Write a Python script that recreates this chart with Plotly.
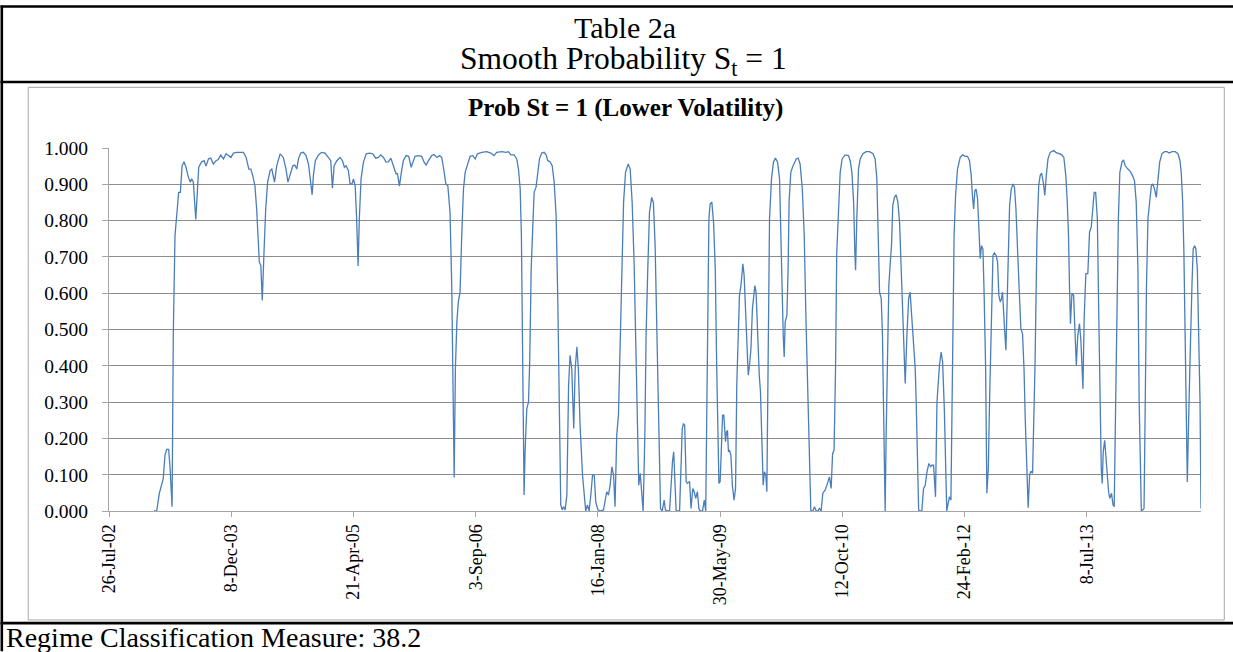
import pandas as pd
import plotly.graph_objects as go

# ---------------- data ----------------
START = "2002-07-26"          # first category on the axis
END_DAY = 4467                # last observation, days after START

tick_labels = ["26-Jul-02", "8-Dec-03", "21-Apr-05", "3-Sep-06", "16-Jan-08",
               "30-May-09", "12-Oct-10", "24-Feb-12", "8-Jul-13"]

y_ticks = [0.0, 0.1, 0.2, 0.3, 0.4, 0.5, 0.6, 0.7, 0.8, 0.9, 1.0]

# observation dates, as days after START
obs_day = [
    184, 195, 206, 216, 222, 229, 236, 244, 250, 258, 263, 270, 277, 285, 292, 299, 307, 315, 325, 332,
    338, 345, 355, 362, 367, 379, 389, 397, 407, 416, 427, 438, 447, 457, 468, 479, 488, 499, 509, 522,
    550, 561, 572, 580, 588, 597, 604, 611, 615, 621, 627, 634, 641, 649, 659, 666, 677, 686, 700, 713,
    724, 732, 741, 752, 760, 768, 775, 784, 795, 806, 816, 822, 831, 836, 844, 857, 870, 884, 897, 907,
    914, 921, 932, 945, 955, 963, 970, 979, 986, 994, 1000, 1007, 1013, 1019, 1024, 1031, 1041, 1052, 1065, 1079,
    1091, 1102, 1112, 1123, 1133, 1143, 1153, 1163, 1174, 1180, 1188, 1196, 1204, 1215, 1226, 1236, 1245, 1252, 1266, 1279,
    1289, 1297, 1307, 1320, 1330, 1341, 1352, 1361, 1368, 1378, 1386, 1395, 1402, 1406, 1412, 1417, 1423, 1429, 1436, 1443,
    1450, 1457, 1466, 1477, 1488, 1498, 1507, 1525, 1545, 1562, 1575, 1586, 1607, 1624, 1634, 1644, 1657, 1668, 1675, 1682,
    1687, 1691, 1695, 1698, 1702, 1709, 1716, 1721, 1727, 1734, 1739, 1747, 1754, 1761, 1770, 1780, 1788, 1795, 1804, 1813,
    1821, 1829, 1836, 1841, 1848, 1854, 1859, 1866, 1873, 1880, 1886, 1893, 1901, 1907, 1914, 1920, 1927, 1937, 1944, 1950,
    1957, 1964, 1971, 1978, 1985, 1991, 2000, 2009, 2023, 2030, 2036, 2043, 2050, 2057, 2064, 2070, 2077, 2084, 2091, 2098,
    2105, 2113, 2124, 2132, 2140, 2148, 2155, 2162, 2167, 2173, 2178, 2185, 2192, 2197, 2204, 2211, 2220, 2227, 2234, 2241,
    2249, 2256, 2263, 2271, 2276, 2285, 2293, 2300, 2305, 2310, 2316, 2320, 2334, 2339, 2345, 2350, 2355, 2361, 2366, 2375,
    2381, 2388, 2394, 2400, 2407, 2413, 2418, 2428, 2435, 2441, 2445, 2450, 2454, 2459, 2466, 2473, 2480, 2486, 2491, 2495,
    2500, 2506, 2510, 2515, 2522, 2526, 2530, 2534, 2538, 2544, 2550, 2557, 2563, 2568, 2574, 2579, 2585, 2593, 2598, 2604,
    2609, 2615, 2620, 2626, 2632, 2638, 2642, 2647, 2654, 2660, 2665, 2671, 2676, 2681, 2687, 2691, 2696, 2702, 2710, 2718,
    2726, 2735, 2743, 2748, 2754, 2758, 2762, 2766, 2773, 2778, 2782, 2789, 2796, 2803, 2811, 2819, 2827, 2836, 2844, 2851,
    2859, 2866, 2871, 2879, 2886, 2893, 2900, 2906, 2913, 2920, 2930, 2939, 2947, 2954, 2960, 2966, 2972, 2977, 2984, 2991,
    2999, 3011, 3025, 3032, 3039, 3046, 3051, 3054, 3059, 3066, 3073, 3084, 3097, 3111, 3125, 3134, 3141, 3147, 3152, 3159,
    3164, 3168, 3172, 3175, 3179, 3185, 3190, 3196, 3201, 3206, 3213, 3220, 3227, 3234, 3239, 3245, 3250, 3257, 3264, 3271,
    3277, 3284, 3291, 3298, 3302, 3306, 3312, 3318, 3325, 3332, 3339, 3346, 3354, 3361, 3366, 3373, 3381, 3387, 3392, 3397,
    3404, 3410, 3417, 3422, 3427, 3434, 3438, 3444, 3448, 3452, 3457, 3463, 3471, 3482, 3492, 3502, 3512, 3520, 3527, 3532,
    3537, 3542, 3547, 3553, 3558, 3564, 3569, 3575, 3580, 3586, 3591, 3597, 3602, 3609, 3616, 3622, 3629, 3635, 3640, 3646,
    3651, 3655, 3659, 3665, 3669, 3673, 3678, 3684, 3691, 3698, 3704, 3710, 3717, 3723, 3730, 3737, 3743, 3748, 3755, 3760,
    3766, 3771, 3778, 3782, 3788, 3796, 3803, 3809, 3815, 3822, 3828, 3834, 3841, 3850, 3864, 3873, 3884, 3898, 3906, 3914,
    3920, 3925, 3929, 3933, 3939, 3946, 3950, 3957, 3963, 3970, 3976, 3984, 3989, 3996, 4004, 4011, 4018, 4024, 4030, 4036,
    4043, 4048, 4054, 4059, 4063, 4067, 4073, 4078, 4084, 4089, 4094, 4101, 4107, 4112, 4118, 4123, 4129, 4135, 4144, 4150,
    4157, 4168, 4178, 4187, 4195, 4202, 4209, 4214, 4220, 4223, 4228, 4234, 4239, 4244, 4250, 4257, 4264, 4270, 4277, 4284,
    4291, 4298, 4307, 4318, 4328, 4337, 4348, 4362, 4373, 4381, 4386, 4392, 4397, 4403, 4407, 4411, 4415, 4419, 4424, 4430,
    4435, 4441, 4446, 4452, 4457, 4463, 4467,
]

# smoothed probability of regime St = 1 (lower volatility)
prob_st1 = [
    0.000, 0.000, 0.049, 0.076, 0.090, 0.154, 0.170, 0.170, 0.117, 0.012, 0.484, 0.759, 0.823, 0.878, 0.878, 0.951, 0.962, 0.947, 0.919, 0.906,
    0.915, 0.906, 0.803, 0.906, 0.947, 0.962, 0.965, 0.950, 0.970, 0.972, 0.956, 0.965, 0.968, 0.981, 0.970, 0.984, 0.979, 0.974, 0.986, 0.988,
    0.988, 0.974, 0.942, 0.942, 0.924, 0.896, 0.832, 0.731, 0.686, 0.676, 0.580, 0.713, 0.832, 0.906, 0.938, 0.942, 0.906, 0.951, 0.984, 0.974,
    0.942, 0.906, 0.924, 0.951, 0.953, 0.942, 0.970, 0.986, 0.988, 0.979, 0.956, 0.924, 0.871, 0.924, 0.965, 0.981, 0.988, 0.986, 0.974, 0.965,
    0.889, 0.951, 0.965, 0.974, 0.965, 0.947, 0.951, 0.938, 0.901, 0.901, 0.915, 0.896, 0.805, 0.675, 0.805, 0.915, 0.961, 0.984, 0.986, 0.984,
    0.972, 0.974, 0.981, 0.974, 0.961, 0.962, 0.972, 0.951, 0.929, 0.929, 0.895, 0.933, 0.965, 0.979, 0.977, 0.947, 0.965, 0.977, 0.979, 0.977,
    0.961, 0.953, 0.965, 0.979, 0.982, 0.974, 0.979, 0.974, 0.947, 0.901, 0.896, 0.823, 0.621, 0.392, 0.092, 0.392, 0.521, 0.576, 0.603, 0.759,
    0.887, 0.933, 0.956, 0.977, 0.979, 0.970, 0.984, 0.988, 0.990, 0.986, 0.979, 0.988, 0.990, 0.988, 0.990, 0.981, 0.981, 0.970, 0.942, 0.887,
    0.759, 0.438, 0.117, 0.044, 0.163, 0.282, 0.300, 0.411, 0.667, 0.823, 0.878, 0.892, 0.942, 0.970, 0.986, 0.988, 0.981, 0.965, 0.962, 0.951,
    0.906, 0.814, 0.576, 0.301, 0.017, 0.003, 0.012, 0.003, 0.044, 0.346, 0.429, 0.392, 0.227, 0.392, 0.452, 0.392, 0.236, 0.099, 0.049, 0.000,
    0.017, 0.000, 0.044, 0.099, 0.099, 0.026, 0.003, 0.000, 0.003, 0.026, 0.053, 0.044, 0.071, 0.122, 0.099, 0.012, 0.209, 0.264, 0.484, 0.713,
    0.851, 0.933, 0.956, 0.942, 0.851, 0.685, 0.438, 0.209, 0.071, 0.104, 0.062, 0.000, 0.209, 0.484, 0.667, 0.823, 0.864, 0.850, 0.732, 0.484,
    0.209, 0.007, 0.000, 0.030, 0.003, 0.000, 0.000, 0.090, 0.136, 0.163, 0.071, 0.000, 0.000, 0.117, 0.227, 0.241, 0.236, 0.081, 0.076, 0.081,
    0.007, 0.062, 0.053, 0.035, 0.053, 0.007, 0.000, 0.000, 0.030, 0.000, 0.209, 0.484, 0.805, 0.846, 0.851, 0.795, 0.667, 0.392, 0.209, 0.076,
    0.081, 0.191, 0.264, 0.264, 0.191, 0.218, 0.222, 0.163, 0.168, 0.154, 0.071, 0.030, 0.062, 0.346, 0.521, 0.594, 0.621, 0.681, 0.649, 0.548,
    0.438, 0.374, 0.401, 0.447, 0.557, 0.612, 0.621, 0.603, 0.465, 0.374, 0.328, 0.209, 0.071, 0.108, 0.099, 0.053, 0.484, 0.805, 0.915, 0.961,
    0.972, 0.961, 0.915, 0.759, 0.576, 0.484, 0.424, 0.521, 0.539, 0.667, 0.851, 0.933, 0.947, 0.956, 0.970, 0.972, 0.956, 0.887, 0.759, 0.530,
    0.301, 0.163, 0.000, 0.000, 0.012, 0.000, 0.000, 0.007, 0.000, 0.049, 0.058, 0.076, 0.094, 0.062, 0.158, 0.168, 0.392, 0.713, 0.851, 0.933,
    0.970, 0.981, 0.979, 0.965, 0.933, 0.851, 0.713, 0.663, 0.805, 0.942, 0.970, 0.984, 0.990, 0.990, 0.984, 0.970, 0.915, 0.759, 0.603, 0.585,
    0.484, 0.301, 0.117, 0.000, 0.209, 0.438, 0.621, 0.685, 0.731, 0.841, 0.864, 0.871, 0.851, 0.795, 0.695, 0.576, 0.493, 0.351, 0.484, 0.585,
    0.603, 0.539, 0.447, 0.392, 0.301, 0.163, 0.003, 0.000, 0.000, 0.062, 0.071, 0.108, 0.131, 0.122, 0.126, 0.126, 0.039, 0.301, 0.356, 0.401,
    0.438, 0.410, 0.282, 0.117, 0.000, 0.026, 0.039, 0.030, 0.301, 0.576, 0.759, 0.869, 0.942, 0.974, 0.981, 0.977, 0.977, 0.965, 0.924, 0.869,
    0.832, 0.882, 0.887, 0.860, 0.777, 0.695, 0.731, 0.722, 0.594, 0.392, 0.049, 0.117, 0.301, 0.530, 0.704, 0.711, 0.704, 0.685, 0.594, 0.576,
    0.585, 0.603, 0.539, 0.484, 0.443, 0.576, 0.713, 0.841, 0.887, 0.901, 0.892, 0.832, 0.713, 0.621, 0.503, 0.488, 0.392, 0.255, 0.117, 0.009,
    0.099, 0.110, 0.104, 0.209, 0.400, 0.759, 0.896, 0.924, 0.931, 0.905, 0.869, 0.924, 0.970, 0.988, 0.993, 0.988, 0.984, 0.981, 0.974, 0.924,
    0.850, 0.759, 0.621, 0.516, 0.599, 0.594, 0.521, 0.401, 0.484, 0.516, 0.466, 0.337, 0.530, 0.654, 0.654, 0.768, 0.782, 0.832, 0.878, 0.878,
    0.805, 0.576, 0.301, 0.117, 0.076, 0.163, 0.195, 0.154, 0.090, 0.053, 0.035, 0.049, 0.017, 0.012, 0.301, 0.576, 0.805, 0.933, 0.962, 0.967,
    0.951, 0.942, 0.935, 0.924, 0.910, 0.851, 0.667, 0.301, 0.026, 0.000, 0.003, 0.007, 0.301, 0.621, 0.805, 0.851, 0.896, 0.901, 0.887, 0.864,
    0.915, 0.961, 0.984, 0.990, 0.990, 0.986, 0.990, 0.990, 0.984, 0.965, 0.933, 0.851, 0.713, 0.392, 0.209, 0.080, 0.209, 0.365, 0.466, 0.621,
    0.722, 0.731, 0.722, 0.667, 0.530, 0.301, 0.007,
]

# ---------------- derived series ----------------
t0 = pd.Timestamp(START)
dates = t0 + pd.to_timedelta(obs_day, unit="D")
tick_dates = pd.to_datetime(tick_labels, format="%d-%b-%y")
x_end = t0 + pd.Timedelta(days=END_DAY)

# ---------------- page geometry (pixels) ----------------
W, H = 1233, 652
PX0, PX1 = 108.5, 1200.7     # plot area left / right
PY0, PY1 = 147.8, 511.5      # plot area top / bottom


def fx(px):
    return (px - PX0) / (PX1 - PX0)


def fy(py):
    return (PY1 - py) / (PY1 - PY0)


SERIF = "Liberation Serif, Times New Roman, serif"
GRID = "#8c8c8c"
AXIS = "#a6a6a6"

fig = go.Figure()
fig.add_trace(go.Scatter(
    x=dates, y=prob_st1, mode="lines",
    line=dict(color="#4a7ebb", width=1.3),
    hoverinfo="x+y", showlegend=False,
))

shapes = [
    # table rules (black)
    dict(type="line", x0=fx(0), x1=fx(W), y0=fy(6), y1=fy(6), line=dict(color="black", width=2.4)),
    dict(type="line", x0=fx(0), x1=fx(W), y0=fy(81.7), y1=fy(81.7), line=dict(color="black", width=2.6)),
    dict(type="line", x0=fx(0), x1=fx(W), y0=fy(623.8), y1=fy(623.8), line=dict(color="black", width=2.6)),
    dict(type="line", x0=fx(1.3), x1=fx(1.3), y0=fy(5), y1=fy(H), line=dict(color="black", width=2.6)),
    # chart area frame (grey)
    dict(type="rect", x0=fx(27.7), x1=fx(1224), y0=fy(87), y1=fy(620.7),
         line=dict(color="#a6a6a6", width=1), fillcolor="rgba(0,0,0,0)"),
]
for s in shapes:
    s.update(xref="paper", yref="paper", layer="above")

annotations = [
    dict(text="Table 2a", x=fx(625), y=fy(27), font=dict(size=30, family=SERIF, color="black")),
    dict(text="Smooth Probability S<sub>t</sub> = 1", x=fx(623), y=fy(60.5),
         font=dict(size=31.5, family=SERIF, color="black")),
    dict(text="<b>Prob St = 1 (Lower Volatility)</b>", x=fx(625.5), y=fy(107.5),
         font=dict(size=25, family=SERIF, color="black")),
    dict(text="Regime Classification Measure: 38.2", x=fx(3), y=fy(638), xanchor="left",
         font=dict(size=28, family=SERIF, color="black")),
]
for a in annotations:
    a.update(xref="paper", yref="paper", showarrow=False)
    a.setdefault("xanchor", "center")
    a.setdefault("yanchor", "middle")

fig.update_layout(
    width=W, height=H,
    margin=dict(l=PX0, r=W - PX1, t=PY0, b=H - PY1, pad=0, autoexpand=False),
    paper_bgcolor="white", plot_bgcolor="white",
    shapes=shapes, annotations=annotations,
    showlegend=False,
)
fig.update_xaxes(
    type="date", range=[t0, x_end],
    tickmode="array", tickvals=tick_dates, ticktext=tick_labels,
    tickangle=-90, tickfont=dict(size=18, family=SERIF, color="black"),
    showgrid=False, zeroline=False,
    showline=True, linecolor=AXIS, linewidth=1,
    ticks="outside", ticklen=5, tickcolor=AXIS,
)
fig.update_yaxes(
    range=[0, 1], tickmode="array", tickvals=y_ticks,
    tickformat=".3f",
    tickfont=dict(size=19.5, family=SERIF, color="black"),
    showgrid=True, gridcolor=GRID, gridwidth=1, zeroline=False,
    showline=True, linecolor=AXIS, linewidth=1,
    ticks="outside", ticklen=6, tickcolor=AXIS, ticklabelstandoff=10,
)

fig.write_html("out.html", config={"displayModeBar": False},
               post_script="document.body.style.margin='0px';")
